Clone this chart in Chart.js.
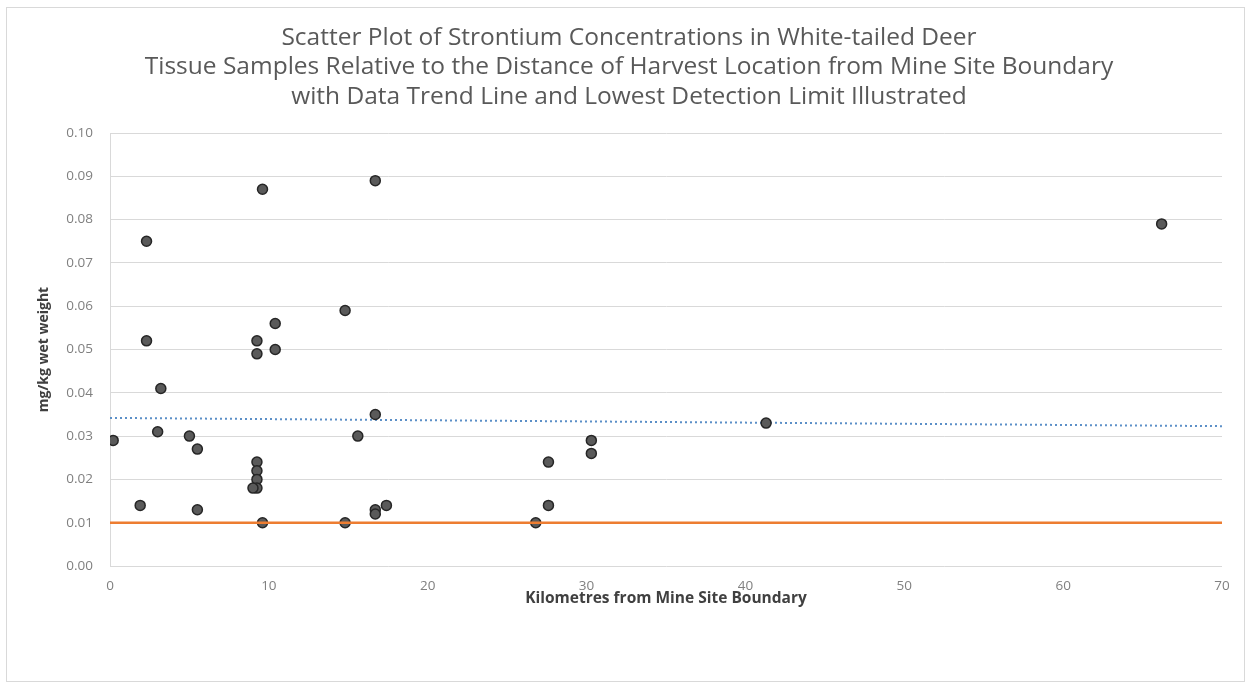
<!DOCTYPE html>
<html>
<head>
<meta charset="utf-8">
<script src="https://cdn.jsdelivr.net/npm/chart.js@4"></script>
<style>
  html, body { margin: 0; padding: 0; background: #fff; }
  canvas { display: block; }
</style>
</head>
<body>
<canvas id="deerChart" width="1251" height="684"></canvas>
<script>
// distance of harvest location from mine site boundary (km)
const distKm = [0.2, 1.9, 2.3, 2.3, 3.2, 3.0, 5.0, 5.5, 5.5, 9.25, 9.25, 9.6, 9.25, 9.25, 9.25, 9.25, 9.0, 9.6, 10.4, 10.4,
  14.8, 14.8, 15.6, 16.7, 16.7, 16.7, 16.7, 17.4, 26.8, 27.6, 27.6, 30.3, 30.3, 41.3, 66.2];
// strontium, mg/kg wet weight
const strontium = [0.029, 0.014, 0.075, 0.052, 0.041, 0.031, 0.030, 0.027, 0.013, 0.052, 0.049, 0.087, 0.024, 0.022, 0.020, 0.018, 0.018, 0.010, 0.056, 0.050,
  0.059, 0.010, 0.030, 0.089, 0.035, 0.013, 0.012, 0.014, 0.010, 0.024, 0.014, 0.029, 0.026, 0.033, 0.079];

// trend line and lowest detection limit
const lineX = [0, 70];
const trendY = [0.0342, 0.0323];
const detectionY = [0.01, 0.01];

const xTicks = [0, 10, 20, 30, 40, 50, 60, 70];

const titleLines = [
  'Scatter Plot of Strontium Concentrations in White-tailed Deer',
  'Tissue Samples Relative to the Distance of Harvest Location from Mine Site Boundary',
  'with Data Trend Line and Lowest Detection Limit Illustrated'
];

function toPoints(xs, ys) {
  return xs.map((x, i) => ({ x: x, y: ys[i] }));
}

// light frame round the whole chart
const framePlugin = {
  id: 'frame',
  beforeDraw(chart) {
    const ctx = chart.ctx;
    ctx.save();
    ctx.fillStyle = '#ffffff';
    ctx.fillRect(0, 0, chart.width, chart.height);
    ctx.strokeStyle = '#d9d9d9';
    ctx.lineWidth = 1;
    ctx.strokeRect(6.5, 7.5, 1238, 674);
    ctx.restore();
  }
};

const ctx = document.getElementById('deerChart').getContext('2d');
const myChart = new Chart(ctx, {
  type: 'scatter',
  data: {
    datasets: [
      {
        label: 'Lowest detection limit',
        type: 'line',
        data: toPoints(lineX, detectionY),
        borderColor: '#ED7D31',
        borderWidth: 2.5,
        pointRadius: 0,
        order: 0
      },
      {
        label: 'Strontium',
        data: toPoints(distKm, strontium),
        backgroundColor: '#5a5a5a',
        borderColor: '#262626',
        borderWidth: 1.5,
        pointRadius: 5,
        order: 1
      },
      {
        label: 'Trend',
        type: 'line',
        data: toPoints(lineX, trendY),
        borderColor: '#5b8fc7',
        borderWidth: 2,
        borderDash: [2, 3],
        pointRadius: 0,
        order: 2
      }
    ]
  },
  options: {
    responsive: false,
    animation: false,
    layout: { padding: { top: 0, left: 36, right: 29, bottom: 0 } },
    plugins: {
      legend: { display: false },
      tooltip: { enabled: false },
      title: {
        display: true,
        text: titleLines,
        color: '#595959',
        font: { family: 'Open Sans', size: 24.5, weight: 'normal', lineHeight: 29.5 / 24.5 },
        padding: { top: 23, bottom: 21.5 }
      }
    },
    scales: {
      x: {
        type: 'linear',
        min: 0,
        max: 70,
        afterBuildTicks(scale) { scale.ticks = xTicks.map(v => ({ value: v })); },
        afterFit(scale) { scale.height = 118; },
        grid: { display: false, drawTicks: false },
        border: { display: false },
        ticks: { color: '#808080', font: { family: 'Open Sans', size: 13.5 }, padding: 12, maxRotation: 0 },
        title: {
          display: true,
          text: 'Kilometres from Mine Site Boundary',
          color: '#404040',
          font: { family: 'Open Sans', size: 15.5, weight: 'bold' },
          padding: { top: 0, bottom: 76 }
        }
      },
      y: {
        min: 0,
        max: 0.1,
        afterFit(scale) { scale.width = 74; },
        grid: { color: '#d9d9d9', lineWidth: 1, drawTicks: false },
        border: { display: true, color: '#d9d9d9' },
        ticks: {
          stepSize: 0.01,
          color: '#808080',
          font: { family: 'Open Sans', size: 13.5 },
          padding: 17,
          callback: v => v.toFixed(2)
        },
        title: {
          display: true,
          text: 'mg/kg wet weight',
          color: '#404040',
          font: { family: 'Open Sans', size: 14, weight: 'bold' },
          padding: { top: 0, bottom: 0 }
        }
      }
    }
  },
  plugins: [framePlugin]
});
</script>
</body>
</html>
